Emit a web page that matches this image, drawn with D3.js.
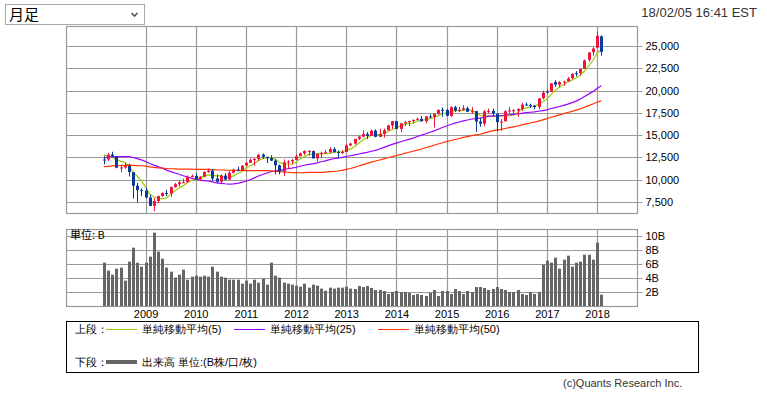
<!DOCTYPE html>
<html><head><meta charset="utf-8">
<script src="https://cdn.jsdelivr.net/npm/d3@7"></script>
<style>
body{margin:0;background:#fff;}
svg text{font-family:"Liberation Sans",Arial,sans-serif;}
.jp{font-family:"Noto Sans CJK JP","Noto Sans",sans-serif;}
</style></head>
<body><svg id="c" width="767" height="393"></svg>
<script>
// ---- data (monthly, 2008-03 .. 2018-02) ----
const months = d3.range(120).map(i => { const m = (2 + i) % 12; const y = 2008 + Math.floor((2 + i) / 12); return y + "-" + String(m + 1).padStart(2, "0"); });
const opens = [12266,12262,12820,12638,11350,11378,11544,10847,9325,8829,
8772,8001,7063,7609,8168,8500,8447,9172,9496,9712,9713,10345,
10430,10068,10325,10857,11009,10137,9774,10466,10016,10789,11119,11006,
11577,11892,12226,12321,12811,12570,12415,12144,11614,10912,11955,12046,
12221,12633,12952,13212,13214,12392,12880,13009,13090,13437,13099,13027,
13104,13860,14054,14580,14839,15116,14911,15500,14810,15132,15545,16086,
16572,15698,16321,16457,16580,16716,16828,16561,17098,17041,17391,17827,
17823,17169,18135,17778,17841,18012,17638,17690,16528,16285,17664,17720,
17405,16451,16545,17661,17783,17755,17925,18434,18393,18308,18162,19149,
19873,19848,20957,20665,20962,21030,21392,21961,21982,22423,23442,24305,
24809,26083];
const highs = [12622,13010,13136,12657,11698,11867,11790,10882,9654,9026,
9088,8280,7925,8221,8588,8877,9234,9630,9917,10119,10496,10580,
10729,10400,10954,11258,11205,10595,10584,10720,10948,11245,11452,11625,
12020,12392,12419,12876,12950,12580,12753,12284,11717,12284,12188,12342,
12840,13055,13290,13338,13280,12898,13159,13331,13653,13662,13290,13294,
13970,14150,14585,14888,15542,15340,15605,15658,15709,15721,16174,16588,
16589,16398,16588,16632,16736,16978,17152,17154,17350,17395,17895,18103,
17951,18244,18289,18175,18351,18200,18138,17736,16933,17800,17978,17979,
17405,16795,17790,18168,17935,18016,18622,18668,18534,18399,19152,19987,
20125,20851,21169,21070,21112,21535,21929,22179,22419,23485,24327,24876,
26617,26187];
const lows = [11731,12102,12442,11287,10827,11221,10365,7882,7449,8149,
7909,7050,6470,7404,8087,8164,8087,9117,9252,9644,9678,10291,
10033,9835,10302,10780,9870,9616,9614,9937,9995,10712,10930,10957,
11535,11862,11555,12093,12323,11862,12093,10605,10597,10404,11232,11735,
12217,12624,12757,12710,12391,12036,12493,12936,12972,13045,12471,12884,
13104,13784,13937,14434,14740,14551,14901,14760,14777,14719,15525,15703,
15690,15340,16016,16015,16334,16632,16540,16333,16901,15855,17278,17068,
17136,17038,17585,17595,17736,17588,17400,15370,15942,16013,17400,17128,
15451,15503,16545,17484,17331,17063,17713,18288,18028,17888,17884,19000,
19677,19832,20412,20379,20554,20995,21280,21600,21709,22416,23242,23921,
24742,23923];
const closes = [12263,12820,12638,11350,11378,11544,10851,9325,8829,8776,
8001,7063,7609,8168,8500,8447,9172,9496,9712,9713,10345,10428,
10067,10325,10857,11009,10137,9774,10466,10015,10788,11118,11006,11578,
11892,12226,12320,12811,12570,12414,12143,11614,10913,11955,12046,12218,
12633,12952,13212,13214,12393,12880,13009,13091,13437,13096,13026,13104,
13861,14054,14579,14840,15116,14910,15500,14810,15130,15546,16086,16577,
15699,16322,16458,16581,16717,16827,16563,17098,17043,17391,17828,17823,
17165,18133,17776,17841,18011,17620,17690,16528,16285,17664,17720,17425,
16466,16517,17685,17774,17787,17930,18432,18401,18308,18142,19124,19763,
19864,20812,20663,20940,21009,21350,21891,21948,22405,23377,24272,24719,
26149,24346];
// closes before the first drawn month (2004-02 .. 2008-02), used by the moving averages
const priorCloses = [10584,10358,10226,10188,10435,10140,10174,10080,10027,10428,10783,
10490,10766,10504,10193,10467,10275,10641,10482,10569,10440,10806,10718,
10865,10993,11109,11367,11168,11150,11186,11381,11679,12081,12222,12463,
12622,12269,12354,13063,13628,13409,13212,13358,13896,13930,13372,13265,
12650,12266];
// volume, billions
const volumes = [6.19,5.05,4.48,5.33,5.48,3.62,6.33,8.33,6.19,5.62,6.19,7.05,
10.48,7.76,6.76,5.48,4.9,4.05,4.48,5.19,3.76,4.19,4.33,4.19,
4.33,4.19,5.62,4.9,4.19,4.05,3.76,3.76,3.76,3.19,3.62,3.19,
3.76,3.33,3.9,3.05,6.19,4.33,4.05,3.33,3.19,3.05,2.9,2.76,
3.19,2.62,3.05,2.9,2.48,2.19,2.62,2.48,2.62,2.62,2.76,2.48,
2.43,2.86,2.71,2.86,2.57,2.29,2.29,2.14,1.71,2.0,2.14,2.0,
2.0,1.86,1.57,1.71,1.57,1.43,1.86,2.29,1.43,2.14,2.14,1.71,
2.43,2.14,1.71,2.14,2.0,2.71,2.71,2.57,2.29,2.43,2.71,2.43,
2.29,2.0,2.0,2.29,1.71,1.57,2.0,1.71,2.0,5.9,6.48,6.19,
6.9,5.33,6.62,7.19,5.62,6.19,6.33,7.33,7.33,6.62,9.05,1.62];
const priceTicks = [7500,10000,12500,15000,17500,20000,22500,25000];
const volTicks = [2,4,6,8,10];
const yearLabels = ["2009","2010","2011","2012","2013","2014","2015","2016","2017","2018"];
const maPeriods = [5,25,50];
const maColors = ["#99cc00","#9900ff","#ff3300"];
const legendLabels = ["単純移動平均(5)","単純移動平均(25)","単純移動平均(50)"];

// ---- layout ----
const svg = d3.select("#c");
const L = 66, R = 637, T1 = 26, B1 = 213, T2 = 229, B2 = 306;
const x = d3.scaleLinear().domain([0, 119]).range([103.8, 601.2]);
const y = d3.scaleLinear().domain([7500, 25000]).range([202, 46]);
const yv = d3.scaleLinear().domain([0, 10]).range([B2, 236]);
const yearIdx = yearLabels.map(yy => months.indexOf(yy + "-01"));
const grid = "#999";

// dropdown
svg.append("rect").attr("x", 5.5).attr("y", 4.5).attr("width", 139).attr("height", 20)
  .attr("fill", "#fff").attr("stroke", "#a9a9a9");
svg.append("text").attr("class", "jp").attr("x", 9).attr("y", 20).attr("font-size", 15).attr("fill", "#000").text("月足");
svg.append("path").attr("d", "M131.5,13 L134.5,16 L137.5,13").attr("fill", "none").attr("stroke", "#555").attr("stroke-width", 1.6);
// timestamp
svg.append("text").attr("x", 757).attr("y", 17).attr("text-anchor", "end").attr("font-size", 13).attr("fill", "#333").text("18/02/05 16:41 EST");

// panels
function panel(top, bottom) {
  const g = svg.append("g");
  g.append("rect").attr("x", L + 0.5).attr("y", top + 0.5).attr("width", R - L).attr("height", bottom - top)
    .attr("fill", "#fff").attr("stroke", grid).attr("stroke-width", 1.2);
  g.selectAll(".vg").data(yearIdx).join("line")
    .attr("x1", d => Math.round(x(d)) + 0.5).attr("x2", d => Math.round(x(d)) + 0.5)
    .attr("y1", top).attr("y2", bottom).attr("stroke", grid).attr("stroke-width", 1.2);
  return g;
}
const g1 = panel(T1, B1);
const g2 = panel(T2, B2);

// price grid + axis
const gy = svg.append("g").attr("transform", `translate(${R + 0.5},0)`)
  .call(d3.axisRight(y).tickValues(priceTicks).tickFormat(d3.format(",")).tickSizeInner(5).tickSizeOuter(0).tickPadding(3));
gy.select(".domain").remove();
gy.selectAll(".tick line").attr("stroke", grid).attr("stroke-width", 1.2).attr("x1", -(R - L)).attr("x2", 5);
gy.selectAll(".tick text").attr("font-size", 11).attr("fill", "#000");
gy.selectAll(".tick").attr("transform", d => `translate(0,${Math.round(y(d)) + 0.5})`);

// volume grid + axis
const gv = svg.append("g").attr("transform", `translate(${R + 0.5},0)`)
  .call(d3.axisRight(yv).tickValues(volTicks).tickFormat(d => d + "B").tickSizeInner(5).tickSizeOuter(0).tickPadding(3));
gv.select(".domain").remove();
gv.selectAll(".tick line").attr("stroke", grid).attr("stroke-width", 1.2).attr("x1", -(R - L)).attr("x2", 5);
gv.selectAll(".tick text").attr("font-size", 11).attr("fill", "#000");
gv.selectAll(".tick").attr("transform", d => `translate(0,${Math.round(yv(d)) + 0.5})`);

// year labels
const gx = svg.append("g").attr("transform", `translate(0,${B2})`)
  .call(d3.axisBottom(x).tickValues(yearIdx).tickFormat((d, i) => yearLabels[i]).tickSize(0).tickPadding(4));
gx.select(".domain").remove();
gx.selectAll(".tick text").attr("font-size", 11).attr("fill", "#000");

// moving averages
const allCloses = priorCloses.concat(closes);
const off = priorCloses.length;
maPeriods.forEach((n, k) => {
  const vals = closes.map((c, i) => d3.mean(allCloses.slice(off + i - n + 1, off + i + 1)));
  svg.append("path").datum(vals)
    .attr("d", d3.line().x((d, i) => x(i)).y(d => y(d)))
    .attr("fill", "none").attr("stroke", maColors[k]).attr("stroke-width", 1.2);
});

// candles
const up = "#f0143c", down = "#0a3a9c";
const cg = svg.append("g");
closes.forEach((c, i) => {
  const o = opens[i], col = c >= o ? up : down;
  const cx = Math.round(x(i));
  cg.append("line").attr("x1", cx + 0.5).attr("x2", cx + 0.5).attr("y1", y(highs[i])).attr("y2", y(lows[i]))
    .attr("stroke", col).attr("stroke-width", 1);
  const top = y(Math.max(o, c)), h = Math.max(1, y(Math.min(o, c)) - top);
  cg.append("rect").attr("x", cx - 1).attr("y", top).attr("width", 3).attr("height", h).attr("fill", col);
});

// volume bars
svg.append("g").selectAll("rect").data(volumes).join("rect")
  .attr("x", (d, i) => Math.round(x(i)) - 1).attr("width", 3)
  .attr("y", d => yv(d)).attr("height", d => B2 - yv(d)).attr("fill", "#666");
svg.append("text").attr("class", "jp").attr("x", 70).attr("y", 239).attr("font-size", 11).attr("fill", "#000").text("単位: B");

// legend
svg.append("rect").attr("x", 66.5).attr("y", 321.5).attr("width", 632).attr("height", 51)
  .attr("fill", "none").attr("stroke", "#000").attr("stroke-width", 1);
const lg = svg.append("g").attr("class", "jp").attr("font-size", 11).attr("fill", "#000");
lg.append("text").attr("x", 75).attr("y", 333).text("上段：");
const legX = [106, 234, 378];
maColors.forEach((c, k) => {
  lg.append("line").attr("x1", legX[k]).attr("x2", legX[k] + 31).attr("y1", 329.5).attr("y2", 329.5).attr("stroke", c).attr("stroke-width", 1);
  lg.append("text").attr("x", legX[k] + 36).attr("y", 333).text(legendLabels[k]);
});
lg.append("text").attr("x", 75).attr("y", 366).text("下段：");
lg.append("line").attr("x1", 106).attr("x2", 137).attr("y1", 362).attr("y2", 362).attr("stroke", "#666").attr("stroke-width", 4);
lg.append("text").attr("x", 142).attr("y", 366).text("出来高 単位:(B株/口/枚)");

svg.append("text").attr("x", 563).attr("y", 387).attr("font-size", 11).attr("fill", "#333").text("(c)Quants Research Inc.");
</script></body></html>
